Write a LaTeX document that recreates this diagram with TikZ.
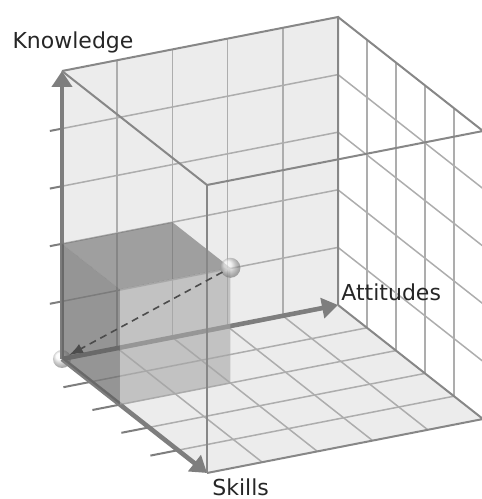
\documentclass[tikz,border=0pt]{standalone}
\usepackage{fontspec}
\setsansfont{DejaVu Sans}
\usepackage{tikz}
\usetikzlibrary{arrows.meta, positioning, calc}
\definecolor{wallgray}{HTML}{ECECEC}
\definecolor{gridgray}{HTML}{ADADAD}
\definecolor{framegray}{HTML}{878787}
\definecolor{axisgray}{HTML}{7E7E7E}
\definecolor{cubedark}{HTML}{5C5C5C}
\definecolor{cubelight}{HTML}{A6A6A6}

\begin{document}
\begin{tikzpicture}[
  x={(27.6pt,5.4pt)}, y={(14.5pt,-11.4pt)}, z={(0pt,28.8pt)},
  wall/.style={fill=wallgray, draw=none},
  gridline/.style={draw=gridgray, line width=0.75pt},
  frame/.style={draw=framegray, line width=1pt},
  axis/.style={-{Triangle[length=8pt, width=10pt]}, line width=2.3pt, color=axisgray},
  tickmark/.style={draw=axisgray, line width=1pt},
  face/.style={draw=none, fill opacity=0.6},
  ball/.style={ball color=gray!8, opacity=0.6},
  vector/.style={-{Latex[length=7pt, width=5pt]}, line width=0.8pt, color=black!70,
                 dash pattern=on 3.5pt off 2.5pt},
  axislabel/.style={font=\sffamily\fontsize{11}{13}\selectfont, inner sep=0pt, text=black!85}
]
  \useasboundingbox (-31pt,-70pt) rectangle (210pt,179.5pt);

  % corners of the box
  \coordinate (O) at (0,0,0);
  \coordinate (A) at (5,0,0);
  \coordinate (S) at (0,5,0);
  \coordinate (K) at (0,0,5);
  \coordinate (C) at (2,2,2);

  % back wall and floor
  \fill[wall] (0,0,0) -- (5,0,0) -- (5,0,5) -- (0,0,5) -- cycle;
  \fill[wall] (0,0,0) -- (5,0,0) -- (5,5,0) -- (0,5,0) -- cycle;

  % grids
  \foreach \i in {1,...,4} {
    \draw[gridline] (\i,0,0) -- (\i,0,5);
    \draw[gridline] (0,0,\i) -- (5,0,\i);
    \draw[gridline] (5,\i,0) -- (5,\i,5);
    \draw[gridline] (5,0,\i) -- (5,5,\i);
    \draw[gridline] (\i,0,0) -- (\i,5,0);
    \draw[gridline] (0,\i,0) -- (5,\i,0);
  }

  % axes
  \shade[ball] (O) circle (4.5pt);
  \draw[axis] (O) -- (K);
  \draw[axis] (O) -- (A);
  \draw[axis] (O) -- (S);
  \foreach \i in {1,...,4} {
    \draw[tickmark] (0,0,\i) -- (-0.22,0,\i);
    \draw[tickmark] (0,\i,0) -- (-0.5,\i,0);
  }

  % the cube
  \fill[face, fill=cubedark] (0,0,0) -- (0,2,0) -- (0,2,2) -- (0,0,2) -- cycle;
  \fill[face, fill=cubedark!90!white] (0,0,2) -- (2,0,2) -- (2,2,2) -- (0,2,2) -- cycle;
  \fill[face, fill=cubelight] (0,2,0) -- (2,2,0) -- (2,2,2) -- (0,2,2) -- cycle;

  % outer frame
  \draw[frame] (0,0,5) -- (5,0,5) -- (5,0,0);
  \draw[frame] (0,0,5) -- (0,5,5) -- (5,5,5) -- (5,0,5);
  \draw[frame] (0,5,0) -- (0,5,5);
  \draw[frame] (5,5,0) -- (5,5,5);
  \draw[frame] (0,5,0) -- (5,5,0) -- (5,0,0);

  \shade[ball] (C) circle (5pt);
  \draw[vector, shorten <=4.5pt, shorten >=4pt] (C) -- (O);

  \node[axislabel, anchor=base] (knowledge) at ([xshift=5.5pt, yshift=11pt]K) {Knowledge};
  \node[axislabel, anchor=base west] (attitudes) at ([xshift=1.5pt, yshift=2pt]A) {Attitudes};
  \node[axislabel, anchor=base west] (skills) at ([xshift=2.5pt, yshift=-11.2pt]S) {Skills};
\end{tikzpicture}
\end{document}
